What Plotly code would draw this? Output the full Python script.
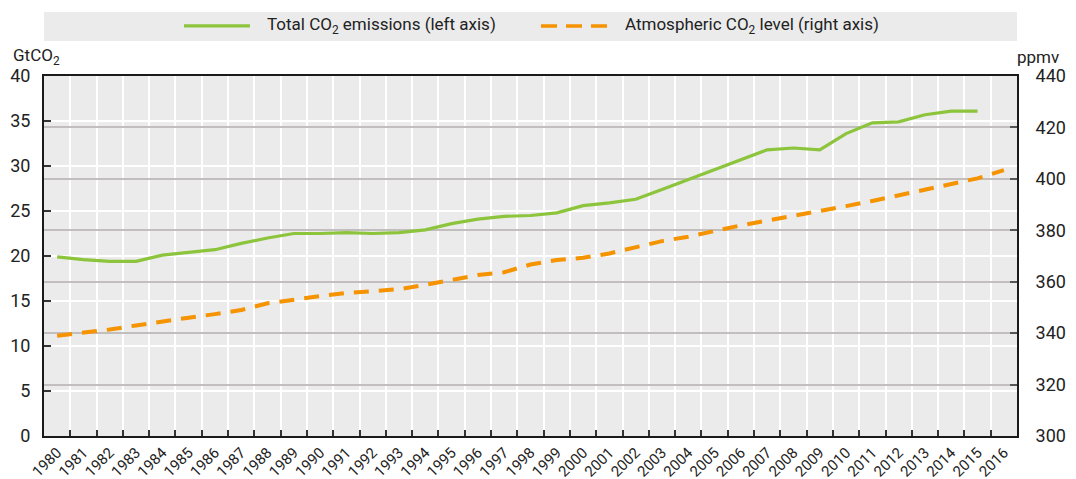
import plotly.graph_objects as go

years = [str(y) for y in range(1980, 2017)]
emissions = [19.9, 19.6, 19.4, 19.4, 20.1, 20.4, 20.7, 21.4, 22.0, 22.5,
             22.5, 22.6, 22.5, 22.6, 22.9, 23.6, 24.1, 24.4, 24.5, 24.8,
             25.6, 25.9, 26.3, 27.4, 28.5, 29.6, 30.7, 31.8, 32.0, 31.8,
             33.6, 34.8, 34.9, 35.7, 36.1, 36.1]
emission_years = years[:len(emissions)]
ppmv = [339.0, 340.1, 341.4, 343.0, 344.6, 346.0, 347.4, 349.0, 351.6, 353.1,
        354.4, 355.6, 356.4, 357.1, 358.8, 360.8, 362.6, 363.7, 366.7, 368.4,
        369.3, 371.0, 373.5, 375.8, 377.5, 379.8, 381.9, 383.8, 385.6, 387.4,
        389.4, 391.4, 393.6, 396.0, 398.0, 400.2, 403.4]

left_ticks = [0, 5, 10, 15, 20, 25, 30, 35, 40]
right_ticks = [300, 320, 340, 360, 380, 400, 420, 440]

series_names = ["Total CO<sub>2</sub> emissions (left axis)",
                "Atmospheric CO<sub>2</sub> level (right axis)"]

FONT = "Roboto, Liberation Sans, sans-serif"
GREEN = "#8CC43C"
ORANGE = "#F59300"
TEXT = "#222222"
DASH = "15px,10px"

fig = go.Figure()
fig.add_trace(go.Scatter(
    x=emission_years, y=emissions, mode="lines", name=series_names[0],
    line=dict(color=GREEN, width=3.2), yaxis="y", showlegend=False))
fig.add_trace(go.Scatter(
    x=years, y=ppmv, mode="lines", name=series_names[1],
    line=dict(color=ORANGE, width=4, dash=DASH), yaxis="y2", showlegend=False))

LEG_Y = 1.139
fig.update_layout(
    width=1060, height=471,
    margin=dict(l=36, r=51, t=68, b=43, autoexpand=False),
    paper_bgcolor="white", plot_bgcolor="#EBEBEB",
    font=dict(family=FONT, size=18, color=TEXT),
    showlegend=False,
    xaxis=dict(type="category", categoryorder="array", categoryarray=years,
               range=[-0.5, len(years) - 0.5],
               tickson="boundaries", ticks="inside", ticklen=6, tickcolor="#333333",
               tickwidth=1.5,
               showgrid=True, gridcolor="white", gridwidth=1.5,
               showline=True, linecolor="#1a1a1a", linewidth=2, mirror=True,
               tickangle=-45, tickfont=dict(size=15), automargin=False,
               fixedrange=True),
    yaxis=dict(range=[0, 40], tickvals=left_ticks, ticks="inside", ticklen=7,
               tickcolor="#333333", tickwidth=1.5,
               showgrid=True, gridcolor="white", gridwidth=1.5, zeroline=False,
               showline=True, linecolor="#1a1a1a", linewidth=2, mirror=True,
               ticklabelstandoff=8, automargin=False, tickfont=dict(size=18)),
    yaxis2=dict(range=[300, 440], tickvals=right_ticks, overlaying="y", side="right",
                ticks="inside", ticklen=7, tickcolor="#555555", tickwidth=1.5,
                showgrid=True, gridcolor="#C2BEBE", gridwidth=1.5, zeroline=False,
                showline=True, linecolor="#1a1a1a", linewidth=2,
                ticklabelstandoff=13, automargin=False, tickfont=dict(size=18)),
    shapes=[
        dict(type="rect", xref="paper", yref="paper", x0=0, x1=1,
             y0=1.0972, y1=1.1778, fillcolor="#EBEBEB", line=dict(width=0),
             layer="below"),
        dict(type="line", xref="paper", yref="paper", x0=0.1439, x1=0.2117,
             y0=LEG_Y, y1=LEG_Y, line=dict(color=GREEN, width=3.2)),
        dict(type="line", xref="paper", yref="paper", x0=0.5108, x1=0.5786,
             y0=LEG_Y, y1=LEG_Y, line=dict(color=ORANGE, width=3.5, dash="16px,9px")),
    ],
    annotations=[
        dict(text=series_names[0], xref="paper", yref="paper", x=0.2271, y=LEG_Y,
             xanchor="left", yanchor="middle", showarrow=False, font=dict(size=17)),
        dict(text=series_names[1], xref="paper", yref="paper", x=0.5951, y=LEG_Y,
             xanchor="left", yanchor="middle", showarrow=False, font=dict(size=17)),
        dict(text="GtCO<sub>2</sub>", xref="paper", yref="paper", x=-0.034, y=1.053,
             xanchor="left", yanchor="middle", showarrow=False, font=dict(size=17)),
        dict(text="ppmv", xref="paper", yref="paper", x=1.0452, y=1.053,
             xanchor="right", yanchor="middle", showarrow=False, font=dict(size=17)),
    ],
)

fig.write_html("out.html")
